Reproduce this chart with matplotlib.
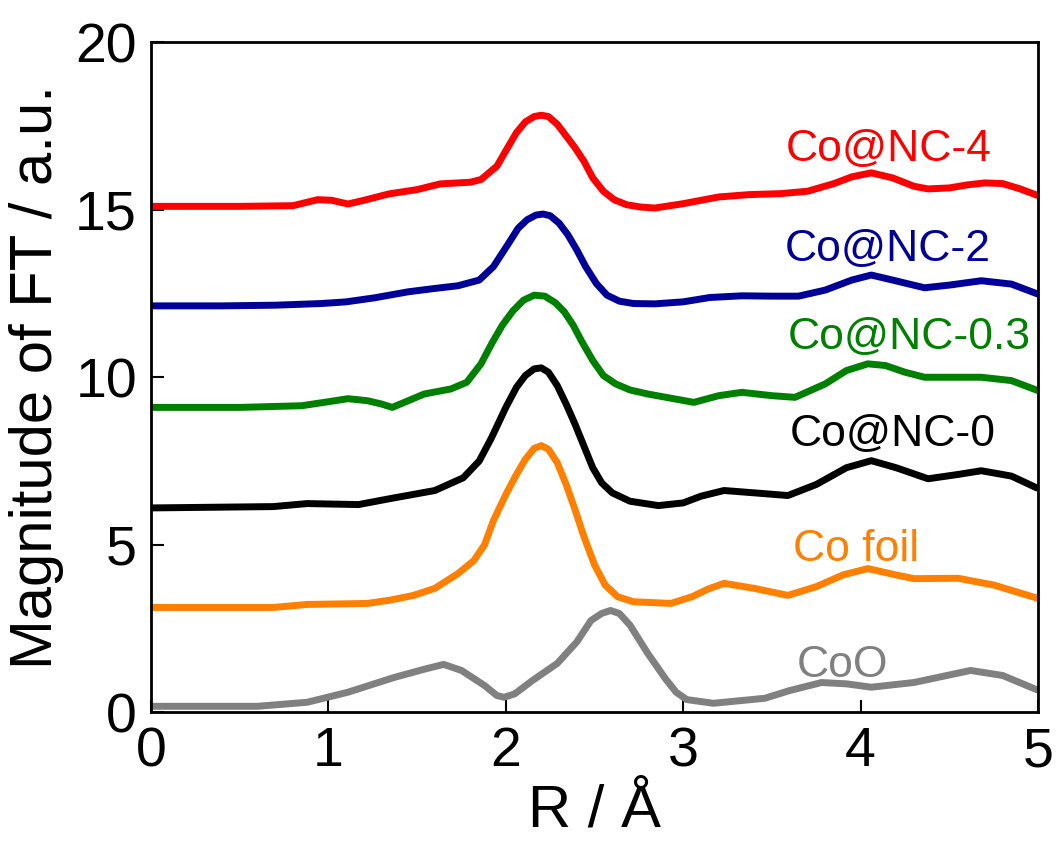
import matplotlib
matplotlib.use("Agg")
from matplotlib import pyplot as plt

plt.rcParams['font.family'] = ['Liberation Sans', 'DejaVu Sans']

# Co@NC-4
x_nc4 = [0.0, 0.5, 0.8, 0.94, 1.02, 1.11, 1.2, 1.34, 1.5, 1.63, 1.8, 1.86, 1.95, 2.01, 2.06,
         2.11, 2.16, 2.2, 2.24, 2.29, 2.34, 2.39, 2.44, 2.49, 2.55, 2.61, 2.68, 2.76, 2.84, 3.0,
         3.2, 3.37, 3.55, 3.7, 3.85, 3.95, 4.06, 4.18, 4.3, 4.38, 4.5, 4.6, 4.7, 4.8, 4.9, 5.0]
y_nc4 = [15.10, 15.10, 15.12, 15.30, 15.28, 15.17, 15.28, 15.47, 15.6, 15.77, 15.82, 15.9, 16.3,
         16.85, 17.3, 17.62, 17.78, 17.82, 17.78, 17.55, 17.2, 16.85, 16.45, 15.95, 15.55, 15.3,
         15.15, 15.08, 15.05, 15.18, 15.38, 15.45, 15.48, 15.55, 15.78, 15.98, 16.1, 15.95, 15.7,
         15.62, 15.65, 15.74, 15.8, 15.78, 15.62, 15.42]

# Co@NC-2
x_nc2 = [0.0, 0.4, 0.7, 0.96, 1.1, 1.26, 1.45, 1.6, 1.73, 1.85, 1.93, 2.01, 2.07, 2.12, 2.17,
         2.21, 2.25, 2.3, 2.35, 2.4, 2.45, 2.51, 2.57, 2.64, 2.72, 2.84, 3.0, 3.15, 3.33, 3.5,
         3.65, 3.8, 3.95, 4.06, 4.18, 4.36, 4.5, 4.68, 4.85, 5.0]
y_nc2 = [12.13, 12.13, 12.15, 12.2, 12.25, 12.37, 12.55, 12.65, 12.73, 12.9, 13.3, 13.95, 14.45,
         14.7, 14.84, 14.87, 14.82, 14.6, 14.25, 13.8, 13.3, 12.8, 12.45, 12.27, 12.2, 12.19,
         12.25, 12.38, 12.43, 12.42, 12.42, 12.6, 12.9, 13.05, 12.9, 12.67, 12.75, 12.88, 12.78,
         12.48]

# Co@NC-0.3
x_nc03 = [0.0, 0.5, 0.85, 1.0, 1.11, 1.22, 1.3, 1.36, 1.45, 1.54, 1.69, 1.78, 1.86, 1.92, 1.98,
          2.04, 2.1, 2.16, 2.22, 2.28, 2.33, 2.38, 2.43, 2.49, 2.55, 2.62, 2.7, 2.8, 3.06, 3.2,
          3.33, 3.5, 3.63, 3.8, 3.92, 4.04, 4.14, 4.25, 4.36, 4.68, 4.85, 5.0]
y_nc03 = [9.1, 9.1, 9.15, 9.27, 9.36, 9.3, 9.2, 9.1, 9.3, 9.5, 9.65, 9.85, 10.4, 11.0, 11.55,
          11.98, 12.3, 12.45, 12.42, 12.22, 11.95, 11.55, 11.05, 10.5, 10.05, 9.8, 9.62, 9.5,
          9.25, 9.45, 9.55, 9.45, 9.4, 9.8, 10.2, 10.4, 10.35, 10.15, 10.0, 10.0, 9.9, 9.6]

# Co@NC-0
x_nc0 = [0.0, 0.69, 0.88, 1.17, 1.35, 1.6, 1.76, 1.85, 1.92, 2.0, 2.06, 2.11, 2.16, 2.2, 2.24,
         2.29, 2.34, 2.39, 2.44, 2.49, 2.54, 2.6, 2.7, 2.86, 3.0, 3.1, 3.23, 3.4, 3.59, 3.75,
         3.92, 4.06, 4.2, 4.38, 4.55, 4.68, 4.85, 5.0]
y_nc0 = [6.1, 6.14, 6.23, 6.2, 6.38, 6.62, 7.0, 7.5, 8.2, 9.1, 9.7, 10.05, 10.25, 10.28, 10.15,
         9.75, 9.2, 8.6, 7.95, 7.3, 6.85, 6.55, 6.3, 6.17, 6.25, 6.45, 6.62, 6.55, 6.47, 6.8,
         7.3, 7.51, 7.3, 6.97, 7.1, 7.21, 7.05, 6.68]

# Co foil
x_foil = [0.0, 0.69, 0.88, 1.22, 1.35, 1.48, 1.6, 1.73, 1.82, 1.88, 1.93, 2.0, 2.06, 2.11, 2.16,
          2.2, 2.24, 2.29, 2.34, 2.39, 2.44, 2.5, 2.56, 2.63, 2.72, 2.93, 3.05, 3.14, 3.23, 3.4,
          3.59, 3.75, 3.9, 4.04, 4.2, 4.3, 4.55, 4.75, 5.0]
y_foil = [3.13, 3.13, 3.22, 3.25, 3.35, 3.49, 3.7, 4.14, 4.53, 5.0, 5.72, 6.5, 7.1, 7.55, 7.88,
          7.96, 7.85, 7.45, 6.8, 6.05, 5.25, 4.4, 3.8, 3.45, 3.3, 3.25, 3.45, 3.68, 3.85, 3.7,
          3.49, 3.75, 4.1, 4.29, 4.1, 3.99, 4.0, 3.8, 3.4]

# CoO
x_coo = [0.0, 0.6, 0.88, 1.11, 1.37, 1.55, 1.65, 1.75, 1.88, 1.95, 1.99, 2.05, 2.15, 2.29, 2.4,
         2.48, 2.54, 2.59, 2.64, 2.7, 2.8, 2.9, 2.96, 3.02, 3.17, 3.46, 3.6, 3.78, 3.92, 4.06,
         4.3, 4.62, 4.8, 5.0]
y_coo = [0.18, 0.18, 0.3, 0.6, 1.04, 1.3, 1.43, 1.25, 0.8, 0.5, 0.45, 0.55, 0.95, 1.46, 2.1,
         2.74, 2.95, 3.04, 2.95, 2.6, 1.76, 1.0, 0.6, 0.38, 0.27, 0.42, 0.65, 0.89, 0.85, 0.75,
         0.89, 1.25, 1.1, 0.66]

names = ['Co@NC-4', 'Co@NC-2', 'Co@NC-0.3', 'Co@NC-0', 'Co foil', 'CoO']
label_x = [3.58, 3.57, 3.59, 3.6, 3.62, 3.64]
label_y = [16.45, 13.47, 10.85, 7.96, 4.53, 1.04]
colors = ['#ff0000', '#000099', '#008000', '#000000', '#ff8000', '#808080']
xs = [x_nc4, x_nc2, x_nc03, x_nc0, x_foil, x_coo]
ys = [y_nc4, y_nc2, y_nc03, y_nc0, y_foil, y_coo]

fig = plt.figure(figsize=(10.56, 8.43), dpi=100)
ax = fig.add_axes([0.143, 0.155, 0.840, 0.795])

for xx, yy, c in zip(xs, ys, colors):
    ax.plot(xx, yy, color=c, lw=5, solid_capstyle='butt', solid_joinstyle='round')

for n, lx, ly, c in zip(names, label_x, label_y, colors):
    ax.text(lx, ly, n, color=c, fontsize=32, ha='left', va='baseline')

ax.set_xlim(0, 5)
ax.set_ylim(0, 20)
ax.set_xticks([0, 1, 2, 3, 4, 5])
ax.set_yticks([0, 5, 10, 15, 20])
ax.tick_params(direction='in', length=9, width=1.5, labelsize=40, pad=10)
for s in ax.spines.values():
    s.set_linewidth(2)
ax.set_xlabel('R / Å', fontsize=43, labelpad=4)
ax.set_ylabel('Magnitude of FT / a.u.', fontsize=43, labelpad=8)

fig.savefig('out.png', dpi=100)
